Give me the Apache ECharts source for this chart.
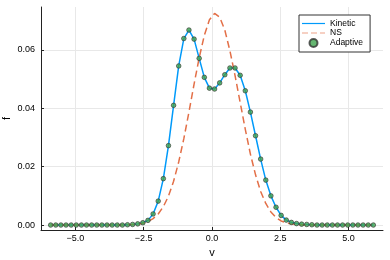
<!DOCTYPE html>
<html><head><meta charset="utf-8">
<script src="https://cdn.jsdelivr.net/npm/echarts@6/dist/echarts.min.js"></script>
<style>html,body{margin:0;padding:0;background:#fff}#c{width:390px;height:260px}</style>
</head><body><div id="c"></div>
<script>
const v = [-5.906,-5.719,-5.531,-5.344,-5.156,-4.969,-4.781,-4.594,-4.406,-4.219,-4.031,-3.844,-3.656,-3.469,-3.281,-3.094,-2.906,-2.719,-2.531,-2.344,-2.156,-1.969,-1.781,-1.594,-1.406,-1.219,-1.031,-0.844,-0.656,-0.469,-0.281,-0.094,0.094,0.281,0.469,0.656,0.844,1.031,1.219,1.406,1.594,1.781,1.969,2.156,2.344,2.531,2.719,2.906,3.094,3.281,3.469,3.656,3.844,4.031,4.219,4.406,4.594,4.781,4.969,5.156,5.344,5.531,5.719,5.906];
const kinetic = [0,0,0,0,0,0,0,0,0,0,0,0,0,0,0,0.0001,0.0002,0.0004,0.0008,0.0016,0.0038,0.0082,0.0159,0.0272,0.0410,0.0545,0.0639,0.0668,0.0637,0.0571,0.0506,0.0469,0.0466,0.0487,0.0515,0.0538,0.0538,0.0513,0.0460,0.0387,0.0306,0.0226,0.0154,0.0100,0.0061,0.0033,0.0017,0.0009,0.0005,0.0003,0.0002,0.0001,0,0,0,0,0,0,0,0,0,0,0,0];
const ns = [0,0,0,0,0,0,0,0,0,0,0,0,0,0,0,0.0001,0.00015,0.0003,0.0006,0.0012,0.0022,0.0038,0.0063,0.0099,0.0150,0.0216,0.0296,0.0387,0.0483,0.0573,0.0650,0.0703,0.0725,0.0712,0.0668,0.0597,0.0512,0.0420,0.0328,0.0243,0.0172,0.0115,0.0074,0.0045,0.0026,0.0014,0.00075,0.0004,0.0002,0.0001,0,0,0,0,0,0,0,0,0,0,0,0,0,0];
const adaptive = kinetic.slice();
const xTicks = [-5, -2.5, 0, 2.5, 5];
const yTicks = [0, 0.02, 0.04, 0.06];

const pair = (xs, ys) => xs.map((x, i) => [x, ys[i]]);
const FONT = 'Liberation Sans';
const fmtX = x => (x < 0 ? '\u2212' : '') + Math.abs(x).toFixed(1);
const fmtY = y => (y < 0 ? '\u2212' : '') + Math.abs(y).toFixed(2);
const axisCol = '#222';
const gridCol = '#e8e8e8';
const solidIcon = 'path://M0,0H23V1.2H0Z';
const dashIcon = 'path://M0,0H6V1.2H0Z M9,0H15V1.2H9Z M18,0H23V1.2H18Z';

const chart = echarts.init(document.getElementById('c'), null, {renderer: 'canvas'});
chart.setOption({
  animation: false,
  backgroundColor: '#fff',
  grid: {left: 41, right: 7, top: 7, bottom: 30, containLabel: false, outerBoundsMode: 'none'},
  xAxis: {
    type: 'value', min: -6.26, max: 6.26,
    name: 'v', nameLocation: 'middle', nameGap: 17, nameMoveOverlap: false,
    nameTextStyle: {fontFamily: FONT, fontSize: 11, color: '#000'},
    axisLine: {show: true, onZero: false, lineStyle: {color: axisCol, width: 1}},
    axisTick: {show: true, inside: true, length: 3, customValues: xTicks, lineStyle: {color: axisCol}},
    axisLabel: {customValues: xTicks, formatter: fmtX, fontFamily: FONT, fontSize: 9, color: '#000', margin: 4},
    splitLine: {show: true, lineStyle: {color: gridCol, width: 1}}
  },
  yAxis: {
    type: 'value', min: -0.0017, max: 0.0747,
    name: 'f', nameLocation: 'middle', nameGap: 29, nameRotate: 90, nameMoveOverlap: false,
    nameTextStyle: {fontFamily: FONT, fontSize: 11, color: '#000'},
    axisLine: {show: true, onZero: false, lineStyle: {color: axisCol, width: 1}},
    axisTick: {show: true, inside: true, length: 3, customValues: yTicks, lineStyle: {color: axisCol}},
    axisLabel: {customValues: yTicks, formatter: fmtY, fontFamily: FONT, fontSize: 9, color: '#000', margin: 6},
    splitLine: {show: true, lineStyle: {color: gridCol, width: 1}}
  },
  legend: {
    orient: 'vertical', left: 299, top: 15,
    padding: [4, 7, 4, 3],
    itemWidth: 23, itemHeight: 8, itemGap: 0.5,
    backgroundColor: '#fff', borderColor: '#333', borderWidth: 1, borderRadius: 0,
    textStyle: {fontFamily: FONT, fontSize: 8.5, color: '#000', lineHeight: 8},
    data: [
      {name: 'Kinetic', icon: solidIcon, itemStyle: {color: '#009AFA', borderWidth: 0}},
      {name: 'NS', icon: dashIcon, itemStyle: {color: '#E36F47', opacity: 0.65, borderWidth: 0}},
      {name: 'Adaptive', icon: 'circle'}
    ]
  },
  series: [
    {name: 'Kinetic', type: 'line', data: pair(v, kinetic), symbol: 'none',
     lineStyle: {color: '#009AFA', width: 1.5}, itemStyle: {color: '#009AFA'}, z: 2},
    {name: 'NS', type: 'line', data: pair(v, ns), symbol: 'none',
     lineStyle: {color: '#E36F47', width: 1.5, type: [7, 4]}, itemStyle: {color: '#E36F47'}, z: 3},
    {name: 'Adaptive', type: 'scatter', data: pair(v, adaptive), symbol: 'circle', symbolSize: 4.6,
     itemStyle: {color: '#3EA44E', borderColor: '#333', borderWidth: 0.8}, z: 4}
  ]
});
</script></body></html>
